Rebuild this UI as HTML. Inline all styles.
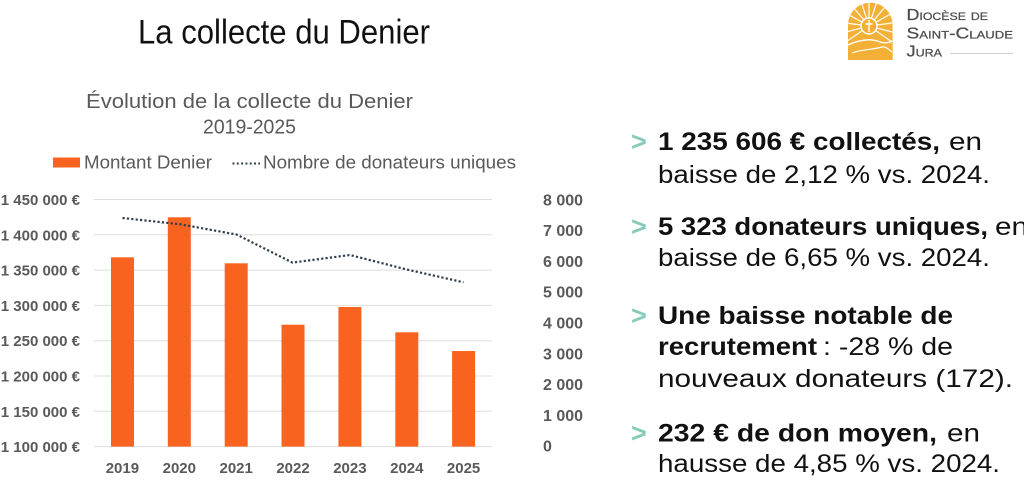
<!DOCTYPE html>
<html>
<head>
<meta charset="utf-8">
<style>
html,body{margin:0;padding:0;background:#fff;}
body{width:1024px;height:503px;overflow:hidden;}
svg{display:block;}
text{font-family:"Liberation Sans",Arial,sans-serif;}
</style>
</head>
<body>
<svg width="1024" height="503" viewBox="0 0 1024 503" xmlns="http://www.w3.org/2000/svg">
  <rect width="1024" height="503" fill="#fff"/>

  <!-- Main title -->
  <text x="138" y="43.5" font-size="34" fill="#111" textLength="292" lengthAdjust="spacingAndGlyphs">La collecte du Denier</text>

  <!-- Logo -->
  <defs>
    <clipPath id="arch">
      <path d="M848,60 L848,25 A22.3,22.3 0 0 1 892.6,25 L892.6,60 Z"/>
    </clipPath>
  </defs>
  <g clip-path="url(#arch)">
    <rect x="846" y="0" width="50" height="62" fill="#f2b136"/>
    <g stroke="#fff" stroke-width="1.3" opacity="0.9">
      <line x1="869" y1="26" x2="869" y2="-10"/>
      <line x1="869" y1="26" x2="880" y2="-8"/>
      <line x1="869" y1="26" x2="858" y2="-8"/>
      <line x1="869" y1="26" x2="891" y2="0"/>
      <line x1="869" y1="26" x2="847" y2="0"/>
      <line x1="869" y1="26" x2="898" y2="10"/>
      <line x1="869" y1="26" x2="840" y2="10"/>
      <line x1="869" y1="26" x2="900" y2="22"/>
      <line x1="869" y1="26" x2="838" y2="22"/>
      <line x1="869" y1="26" x2="900" y2="34"/>
      <line x1="869" y1="26" x2="838" y2="34"/>
      <line x1="869" y1="26" x2="898" y2="46"/>
      <line x1="869" y1="26" x2="840" y2="46"/>
    </g>
    <circle cx="869" cy="26" r="8" fill="#f2b136" stroke="#fff" stroke-width="1.5"/>
    <line x1="869" y1="20" x2="869" y2="32" stroke="#fff" stroke-width="1.4"/>
    <line x1="865.5" y1="24" x2="872.5" y2="24" stroke="#fff" stroke-width="1.4"/>
    <path d="M846,46 C858,40 870,38 880,42 C886,44 890,42 896,40 L896,62 L846,62 Z" fill="#f2b136"/>
    <path d="M846,46 C858,40 870,38 880,42 C886,44 890,42 896,40" fill="none" stroke="#fff" stroke-width="1.4"/>
    <path d="M852,53 C862,49 872,50 882,47 C886,46 889,50 892,52" fill="none" stroke="#fff" stroke-width="1.2"/>
  </g>
  <g fill="#4d4d4d" font-variant="small-caps" stroke="#4d4d4d" stroke-width="0.25">
    <text x="906.5" y="20" font-size="16" textLength="81.5" lengthAdjust="spacingAndGlyphs">Diocèse de</text>
    <text x="906.5" y="38.5" font-size="16" textLength="106.5" lengthAdjust="spacingAndGlyphs">Saint-Claude</text>
    <text x="906.5" y="56.5" font-size="16" textLength="35.5" lengthAdjust="spacingAndGlyphs">Jura</text>
  </g>
  <line x1="950" y1="53.5" x2="1013" y2="53.5" stroke="#cfcfcf" stroke-width="1"/>

  <!-- Chart title -->
  <text x="86" y="108" font-size="20" fill="#595959" textLength="327" lengthAdjust="spacingAndGlyphs">Évolution de la collecte du Denier</text>
  <text x="203" y="133.5" font-size="20" fill="#595959" textLength="93" lengthAdjust="spacingAndGlyphs">2019-2025</text>

  <!-- Legend -->
  <rect x="53" y="157.5" width="27" height="10" fill="#f8631f"/>
  <text x="84" y="168.5" font-size="18" fill="#595959" textLength="128" lengthAdjust="spacingAndGlyphs">Montant Denier</text>
  <line x1="232.5" y1="163.5" x2="260" y2="163.5" stroke="#2e3e4e" stroke-width="2" stroke-dasharray="2 2.3"/>
  <text x="263" y="168.5" font-size="18" fill="#595959" textLength="253" lengthAdjust="spacingAndGlyphs">Nombre de donateurs uniques</text>

  <!-- Gridlines -->
  <g stroke="#dedede" stroke-width="1">
    <line x1="94" y1="199.5" x2="492" y2="199.5"/>
    <line x1="94" y1="234.8" x2="492" y2="234.8"/>
    <line x1="94" y1="270.1" x2="492" y2="270.1"/>
    <line x1="94" y1="305.4" x2="492" y2="305.4"/>
    <line x1="94" y1="340.7" x2="492" y2="340.7"/>
    <line x1="94" y1="376" x2="492" y2="376"/>
    <line x1="94" y1="411.3" x2="492" y2="411.3"/>
    <line x1="94" y1="446.6" x2="492" y2="446.6"/>
  </g>

  <!-- Left axis labels -->
  <g font-size="15" font-weight="bold" fill="#595959" text-anchor="end">
    <text x="80" y="205">1 450 000 €</text>
    <text x="80" y="240.3">1 400 000 €</text>
    <text x="80" y="275.6">1 350 000 €</text>
    <text x="80" y="310.9">1 300 000 €</text>
    <text x="80" y="346.2">1 250 000 €</text>
    <text x="80" y="381.5">1 200 000 €</text>
    <text x="80" y="416.8">1 150 000 €</text>
    <text x="80" y="452.1">1 100 000 €</text>
  </g>

  <!-- Right axis labels -->
  <g font-size="16" font-weight="bold" fill="#595959">
    <text x="543" y="205.3" textLength="40" lengthAdjust="spacingAndGlyphs">8 000</text>
    <text x="543" y="236.1" textLength="40" lengthAdjust="spacingAndGlyphs">7 000</text>
    <text x="543" y="266.9" textLength="40" lengthAdjust="spacingAndGlyphs">6 000</text>
    <text x="543" y="297.7" textLength="40" lengthAdjust="spacingAndGlyphs">5 000</text>
    <text x="543" y="328.5" textLength="40" lengthAdjust="spacingAndGlyphs">4 000</text>
    <text x="543" y="359.3" textLength="40" lengthAdjust="spacingAndGlyphs">3 000</text>
    <text x="543" y="390.1" textLength="40" lengthAdjust="spacingAndGlyphs">2 000</text>
    <text x="543" y="420.9" textLength="40" lengthAdjust="spacingAndGlyphs">1 000</text>
    <text x="543" y="451.7">0</text>
  </g>

  <!-- Bars -->
  <g fill="#f8631f">
    <rect x="111" y="257.3" width="23" height="189.3"/>
    <rect x="167.8" y="217.3" width="23" height="229.3"/>
    <rect x="224.7" y="263.3" width="23" height="183.3"/>
    <rect x="281.5" y="324.7" width="23" height="121.9"/>
    <rect x="338.4" y="307" width="23" height="139.6"/>
    <rect x="395.3" y="332.3" width="23" height="114.3"/>
    <rect x="452.1" y="351" width="23" height="95.6"/>
  </g>

  <!-- Dotted line -->
  <polyline points="122.5,218 179.8,224.2 236.5,234.5 292.5,262.6 350,255 406.8,269.5 463.5,282.3" fill="none" stroke="#2e3e4e" stroke-width="2.2" stroke-dasharray="2.2 2.2"/>

  <!-- X labels -->
  <g font-size="15" font-weight="bold" fill="#595959" text-anchor="middle">
    <text x="122.4" y="473">2019</text>
    <text x="179.3" y="473">2020</text>
    <text x="236.2" y="473">2021</text>
    <text x="293" y="473">2022</text>
    <text x="349.9" y="473">2023</text>
    <text x="406.8" y="473">2024</text>
    <text x="463.6" y="473">2025</text>
  </g>

  <!-- Right-hand bullets -->
  <g font-size="27" font-weight="bold" fill="#88cbbb">
    <text x="631" y="150.5">&gt;</text>
    <text x="631" y="235.5">&gt;</text>
    <text x="631" y="324.5">&gt;</text>
    <text x="631" y="442">&gt;</text>
  </g>
  <g font-size="25" fill="#111">
    <text x="658" y="150" font-weight="bold" textLength="282" lengthAdjust="spacingAndGlyphs">1 235 606 € collectés,</text>
    <text x="949" y="150" textLength="33" lengthAdjust="spacingAndGlyphs">en</text>
    <text x="658" y="183" textLength="332" lengthAdjust="spacingAndGlyphs">baisse de 2,12 % vs. 2024.</text>

    <text x="658" y="235" font-weight="bold" textLength="330" lengthAdjust="spacingAndGlyphs">5 323 donateurs uniques,</text>
    <text x="995" y="235" textLength="33" lengthAdjust="spacingAndGlyphs">en</text>
    <text x="658" y="266" textLength="332" lengthAdjust="spacingAndGlyphs">baisse de 6,65 % vs. 2024.</text>

    <text x="658" y="324" font-weight="bold" textLength="295" lengthAdjust="spacingAndGlyphs">Une baisse notable de</text>
    <text x="658" y="355" font-weight="bold" textLength="159" lengthAdjust="spacingAndGlyphs">recrutement</text>
    <text x="823" y="355" textLength="130" lengthAdjust="spacingAndGlyphs">: -28 % de</text>
    <text x="658" y="387" textLength="355" lengthAdjust="spacingAndGlyphs">nouveaux donateurs (172).</text>

    <text x="658" y="441.5" font-weight="bold" textLength="279" lengthAdjust="spacingAndGlyphs">232 € de don moyen,</text>
    <text x="947" y="441.5" textLength="33" lengthAdjust="spacingAndGlyphs">en</text>
    <text x="658" y="472" textLength="342" lengthAdjust="spacingAndGlyphs">hausse de 4,85 % vs. 2024.</text>
  </g>
</svg>
</body>
</html>
